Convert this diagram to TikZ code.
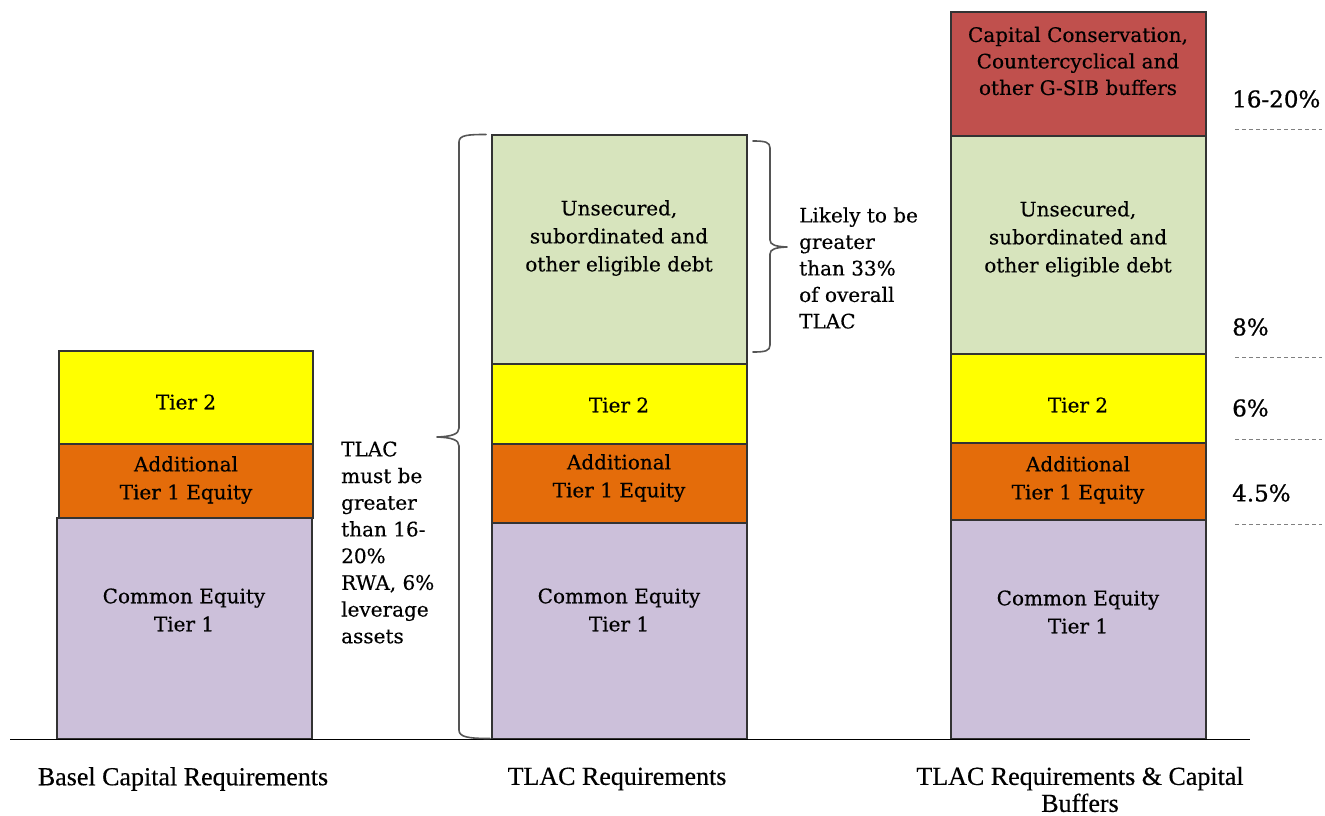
\documentclass[tikz,border=0pt]{standalone}
\usepackage{fontspec}
\setmainfont{DejaVu Serif}[FakeBold=0.4]
\newfontfamily\pctfont{DejaVu Serif}[FakeBold=0.8]
\newfontfamily\labfont{Liberation Serif}[FakeBold=0.4]
\definecolor{cyel}{HTML}{FFFF00}
\definecolor{corg}{HTML}{E46C0A}
\definecolor{clav}{HTML}{CCC0DA}
\definecolor{cgrn}{HTML}{D7E4BD}
\definecolor{cred}{HTML}{C0504D}
\definecolor{cedge}{HTML}{333333}
\definecolor{cbrace}{HTML}{555555}
\begin{document}
\begin{tikzpicture}[x=1pt,y=-1pt,
  bx/.style={draw=cedge, line width=1.2pt, rectangle, inner sep=0pt},
  boxtxt/.style={align=center, inner sep=0pt, text=black, font=\fontsize{20}{28}\selectfont},
  sidetxt/.style={align=left, inner sep=0pt, anchor=west, text=black, font=\fontsize{20}{26.7}\selectfont},
  pct/.style={inner sep=0pt, anchor=west, text=black, font=\pctfont\fontsize{23}{27}\selectfont},
  pctline/.style={draw=gray, line width=0.7pt, dash pattern=on 4pt off 3pt},
  caption/.style={align=center, inner sep=0pt, text=black, font=\labfont\fontsize{26}{27}\selectfont},
  bracestyle/.style={draw=cbrace, line width=1.6pt, line cap=round, line join=round}]
\useasboundingbox (0,0) rectangle (1325,816);

% ---- Bar 1: Basel Capital Requirements
\node[bx, fill=cyel, minimum width=254pt, minimum height=93pt] (b1t2) at (186,397.5) {};
\node[bx, fill=corg, minimum width=254pt, minimum height=74pt] (b1at1) at (186,481) {};
\node[bx, fill=clav, minimum width=255pt, minimum height=221pt] (b1cet) at (184.5,628.5) {};
\node[boxtxt] (b1t2l) at (186,402) {Tier 2};
\node[boxtxt] (b1at1l) at (186,480) {Additional\\Tier 1 Equity};
\node[boxtxt] (b1cetl) at (184,610) {Common Equity\\Tier 1};

% ---- Bar 2: TLAC Requirements
\node[bx, fill=cgrn, minimum width=255pt, minimum height=229pt] (b2deb) at (619.5,249.5) {};
\node[bx, fill=cyel, minimum width=255pt, minimum height=80pt] (b2t2) at (619.5,404) {};
\node[bx, fill=corg, minimum width=255pt, minimum height=79pt] (b2at1) at (619.5,483.5) {};
\node[bx, fill=clav, minimum width=255pt, minimum height=216pt] (b2cet) at (619.5,631) {};
\node[boxtxt] (b2debl) at (619,238) {Unsecured,\\subordinated and\\other eligible debt};
\node[boxtxt] (b2t2l) at (619,405) {Tier 2};
\node[boxtxt] (b2at1l) at (619,478) {Additional\\Tier 1 Equity};
\node[boxtxt] (b2cetl) at (619,610) {Common Equity\\Tier 1};

% ---- Bar 3: TLAC Requirements & Capital Buffers
\node[bx, fill=cred, minimum width=255pt, minimum height=124pt] (b3buf) at (1078.5,74) {};
\node[bx, fill=cgrn, minimum width=255pt, minimum height=218pt] (b3deb) at (1078.5,245) {};
\node[bx, fill=cyel, minimum width=255pt, minimum height=89pt] (b3t2) at (1078.5,398.5) {};
\node[bx, fill=corg, minimum width=255pt, minimum height=77pt] (b3at1) at (1078.5,481.5) {};
\node[bx, fill=clav, minimum width=255pt, minimum height=219pt] (b3cet) at (1078.5,629.5) {};
\node[boxtxt, font=\fontsize{20}{26.5}\selectfont] (b3bufl) at (1078,61) {Capital Conservation,\\Countercyclical and\\other G-SIB buffers};
\node[boxtxt] (b3debl) at (1078,239) {Unsecured,\\subordinated and\\other eligible debt};
\node[boxtxt] (b3t2l) at (1078,405) {Tier 2};
\node[boxtxt] (b3at1l) at (1078,480) {Additional\\Tier 1 Equity};
\node[boxtxt] (b3cetl) at (1078,612) {Common Equity\\Tier 1};

% ---- Baseline
\coordinate (axL) at (10,739.5);
\coordinate (axR) at (1250,739.5);
\draw[black, line width=1.6pt] (axL) -- (axR);

% ---- Big brace (left of bar 2)
\draw[bracestyle] (486,134.5) .. controls (468,134.5) and (459,135) .. (459,142)
  -- (459,428) .. controls (459,434) and (452,436.5) .. (437,437)
  .. controls (452,437.5) and (459,440) .. (459,446)
  -- (459,730) .. controls (459,737) and (468,738.5) .. (490,738.5);
\coordinate (bigtip) at (437,437);

% ---- Small brace (right of bar 2)
\draw[bracestyle] (753,141) .. controls (765,141) and (770,142) .. (770,148)
  -- (770,240) .. controls (770,245) and (776,246.5) .. (787,247)
  .. controls (776,247.5) and (770,249) .. (770,254)
  -- (770,345) .. controls (770,351) and (765,352) .. (753,352);
\coordinate (smalltip) at (787,247);

% ---- Side texts
\node[sidetxt] (tlacnote) at (341,542.5) {TLAC\\must be\\greater\\than 16-\\20\%\\RWA, 6\%\\leverage\\assets};
\node[sidetxt, font=\fontsize{20}{26.5}\selectfont] (likely) at (799,268) {Likely to be\\greater\\than 33\%\\of overall\\TLAC};

% ---- Percent labels with dashed lines
\node[pct] (p1) at (1232,99) {16-20\%};
\node[pct] (p2) at (1232,327) {8\%};
\node[pct] (p3) at (1232,408) {6\%};
\node[pct] (p4) at (1232,493) {4.5\%};
\foreach \n/\yy in {d1/129, d2/357, d3/439, d4/524}{
  \coordinate (\n a) at (1235,\yy);
  \coordinate (\n b) at (1322,\yy);
  \draw[pctline] (\n a) -- (\n b);
}

% ---- Captions
\node[caption] (c1) at (183,779) {Basel Capital Requirements};
\node[caption] (c2) at (617,779) {TLAC Requirements};
\node[caption] (c3) at (1080,789.5) {TLAC Requirements \& Capital\\Buffers};
\end{tikzpicture}
\end{document}
